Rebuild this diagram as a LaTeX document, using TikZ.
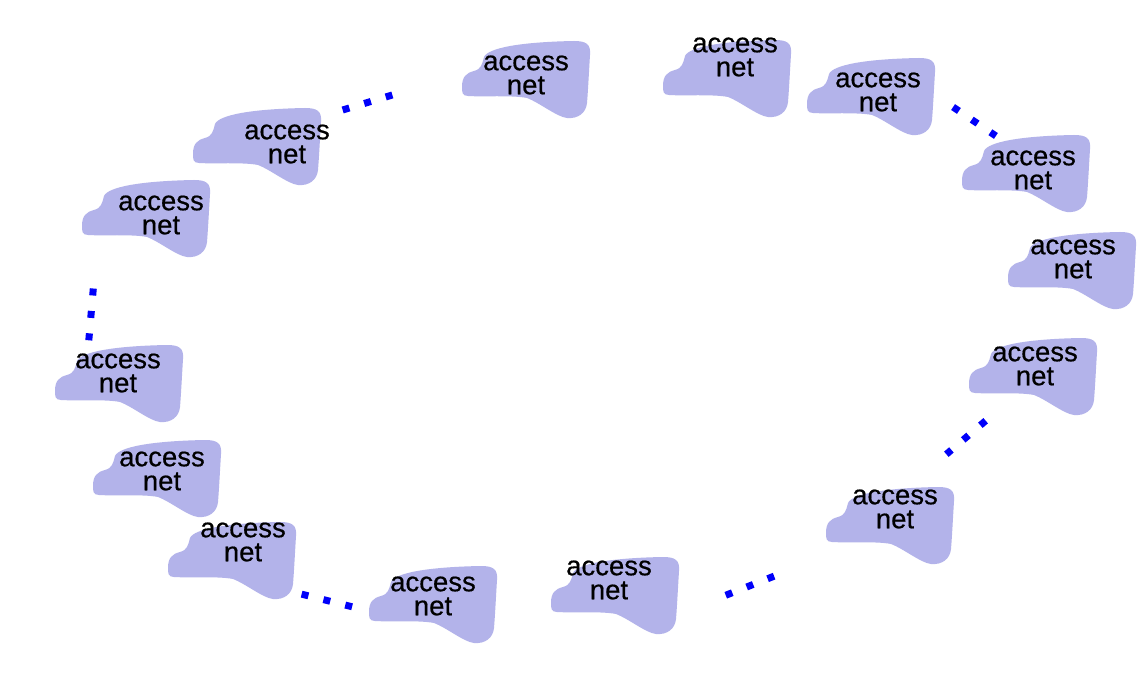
\documentclass[tikz,border=0pt]{standalone}
\usepackage{fontspec}
\setmainfont{Liberation Sans}
\newfontfamily\netfont[FakeBold=0.5]{Liberation Sans}
\definecolor{blobfill}{RGB}{179,179,234}
\definecolor{dotblue}{RGB}{0,0,250}
\tikzset{
  blob/.pic={
    \fill[blobfill] (22,16) .. controls (26,7) and (58,1) .. (112,0)
      .. controls (124,0) and (129,3) .. (128,14)
      .. controls (127,30) and (126,50) .. (125,62)
      .. controls (124,72) and (116,78) .. (105,77)
      .. controls (95,76) and (78,62) .. (65,57)
      .. controls (50,54) and (20,56) .. (6,55)
      .. controls (0,55) and (0,51) .. (0,46)
      .. controls (0,36) and (4,32) .. (12,30)
      .. controls (19,28) and (20,24) .. (22,16) -- cycle;
  },
  netlabel/.style={align=center, inner sep=0pt, font=\netfont\fontsize{27.5}{24}\selectfont, text=black},
  dotline/.style={draw=dotblue, line width=7pt, line cap=butt,
    dash pattern=on 7pt off 15.5pt, shorten <=-3.5pt, shorten >=-3.5pt}
}
\begin{document}
\begin{tikzpicture}[x=1pt,y=-1pt]
\fill[white] (0,0) rectangle (1147,700);
\useasboundingbox (0,0) rectangle (1147,700);
% blobs
\pic at (462,41) {blob};
\pic at (663,40) {blob};
\pic at (807,58) {blob};
\pic at (962,135) {blob};
\pic at (1008,232) {blob};
\pic at (969,338) {blob};
\pic at (826,487) {blob};
\pic at (551,557) {blob};
\pic at (369,566) {blob};
\pic at (168,522) {blob};
\pic at (93,440) {blob};
\pic at (55,345) {blob};
\pic at (82,180) {blob};
\pic at (193,108) {blob};
% labels
\node[netlabel] (n1) at (526,75) {access\\net};
\node[netlabel] (n2) at (735,57) {access\\net};
\node[netlabel] (n3) at (878,92) {access\\net};
\node[netlabel] (n4) at (1033,170) {access\\net};
\node[netlabel] (n5) at (1073,259) {access\\net};
\node[netlabel] (n6) at (1035,366) {access\\net};
\node[netlabel] (n7) at (895,509) {access\\net};
\node[netlabel] (n8) at (609,580) {access\\net};
\node[netlabel] (n9) at (433,596) {access\\net};
\node[netlabel] (n10) at (243,542) {access\\net};
\node[netlabel] (n11) at (162,471) {access\\net};
\node[netlabel] (n12) at (118,373) {access\\net};
\node[netlabel] (n13) at (161,215) {access\\net};
\node[netlabel] (n14) at (287,144) {access\\net};
% dotted connectors
\coordinate (a1) at (346,109); \coordinate (a2) at (389,96);
\coordinate (b1) at (956,109); \coordinate (b2) at (993,134);
\coordinate (c1) at (93,292); \coordinate (c2) at (89,338);
\coordinate (d1) at (983,423); \coordinate (d2) at (949,452);
\coordinate (e1) at (729,594); \coordinate (e2) at (772,577);
\coordinate (f1) at (305,595); \coordinate (f2) at (349,606);
\draw[dotline] (a1) -- (a2);
\draw[dotline] (b1) -- (b2);
\draw[dotline] (c1) -- (c2);
\draw[dotline] (d1) -- (d2);
\draw[dotline] (e1) -- (e2);
\draw[dotline] (f1) -- (f2);
\end{tikzpicture}
\end{document}
